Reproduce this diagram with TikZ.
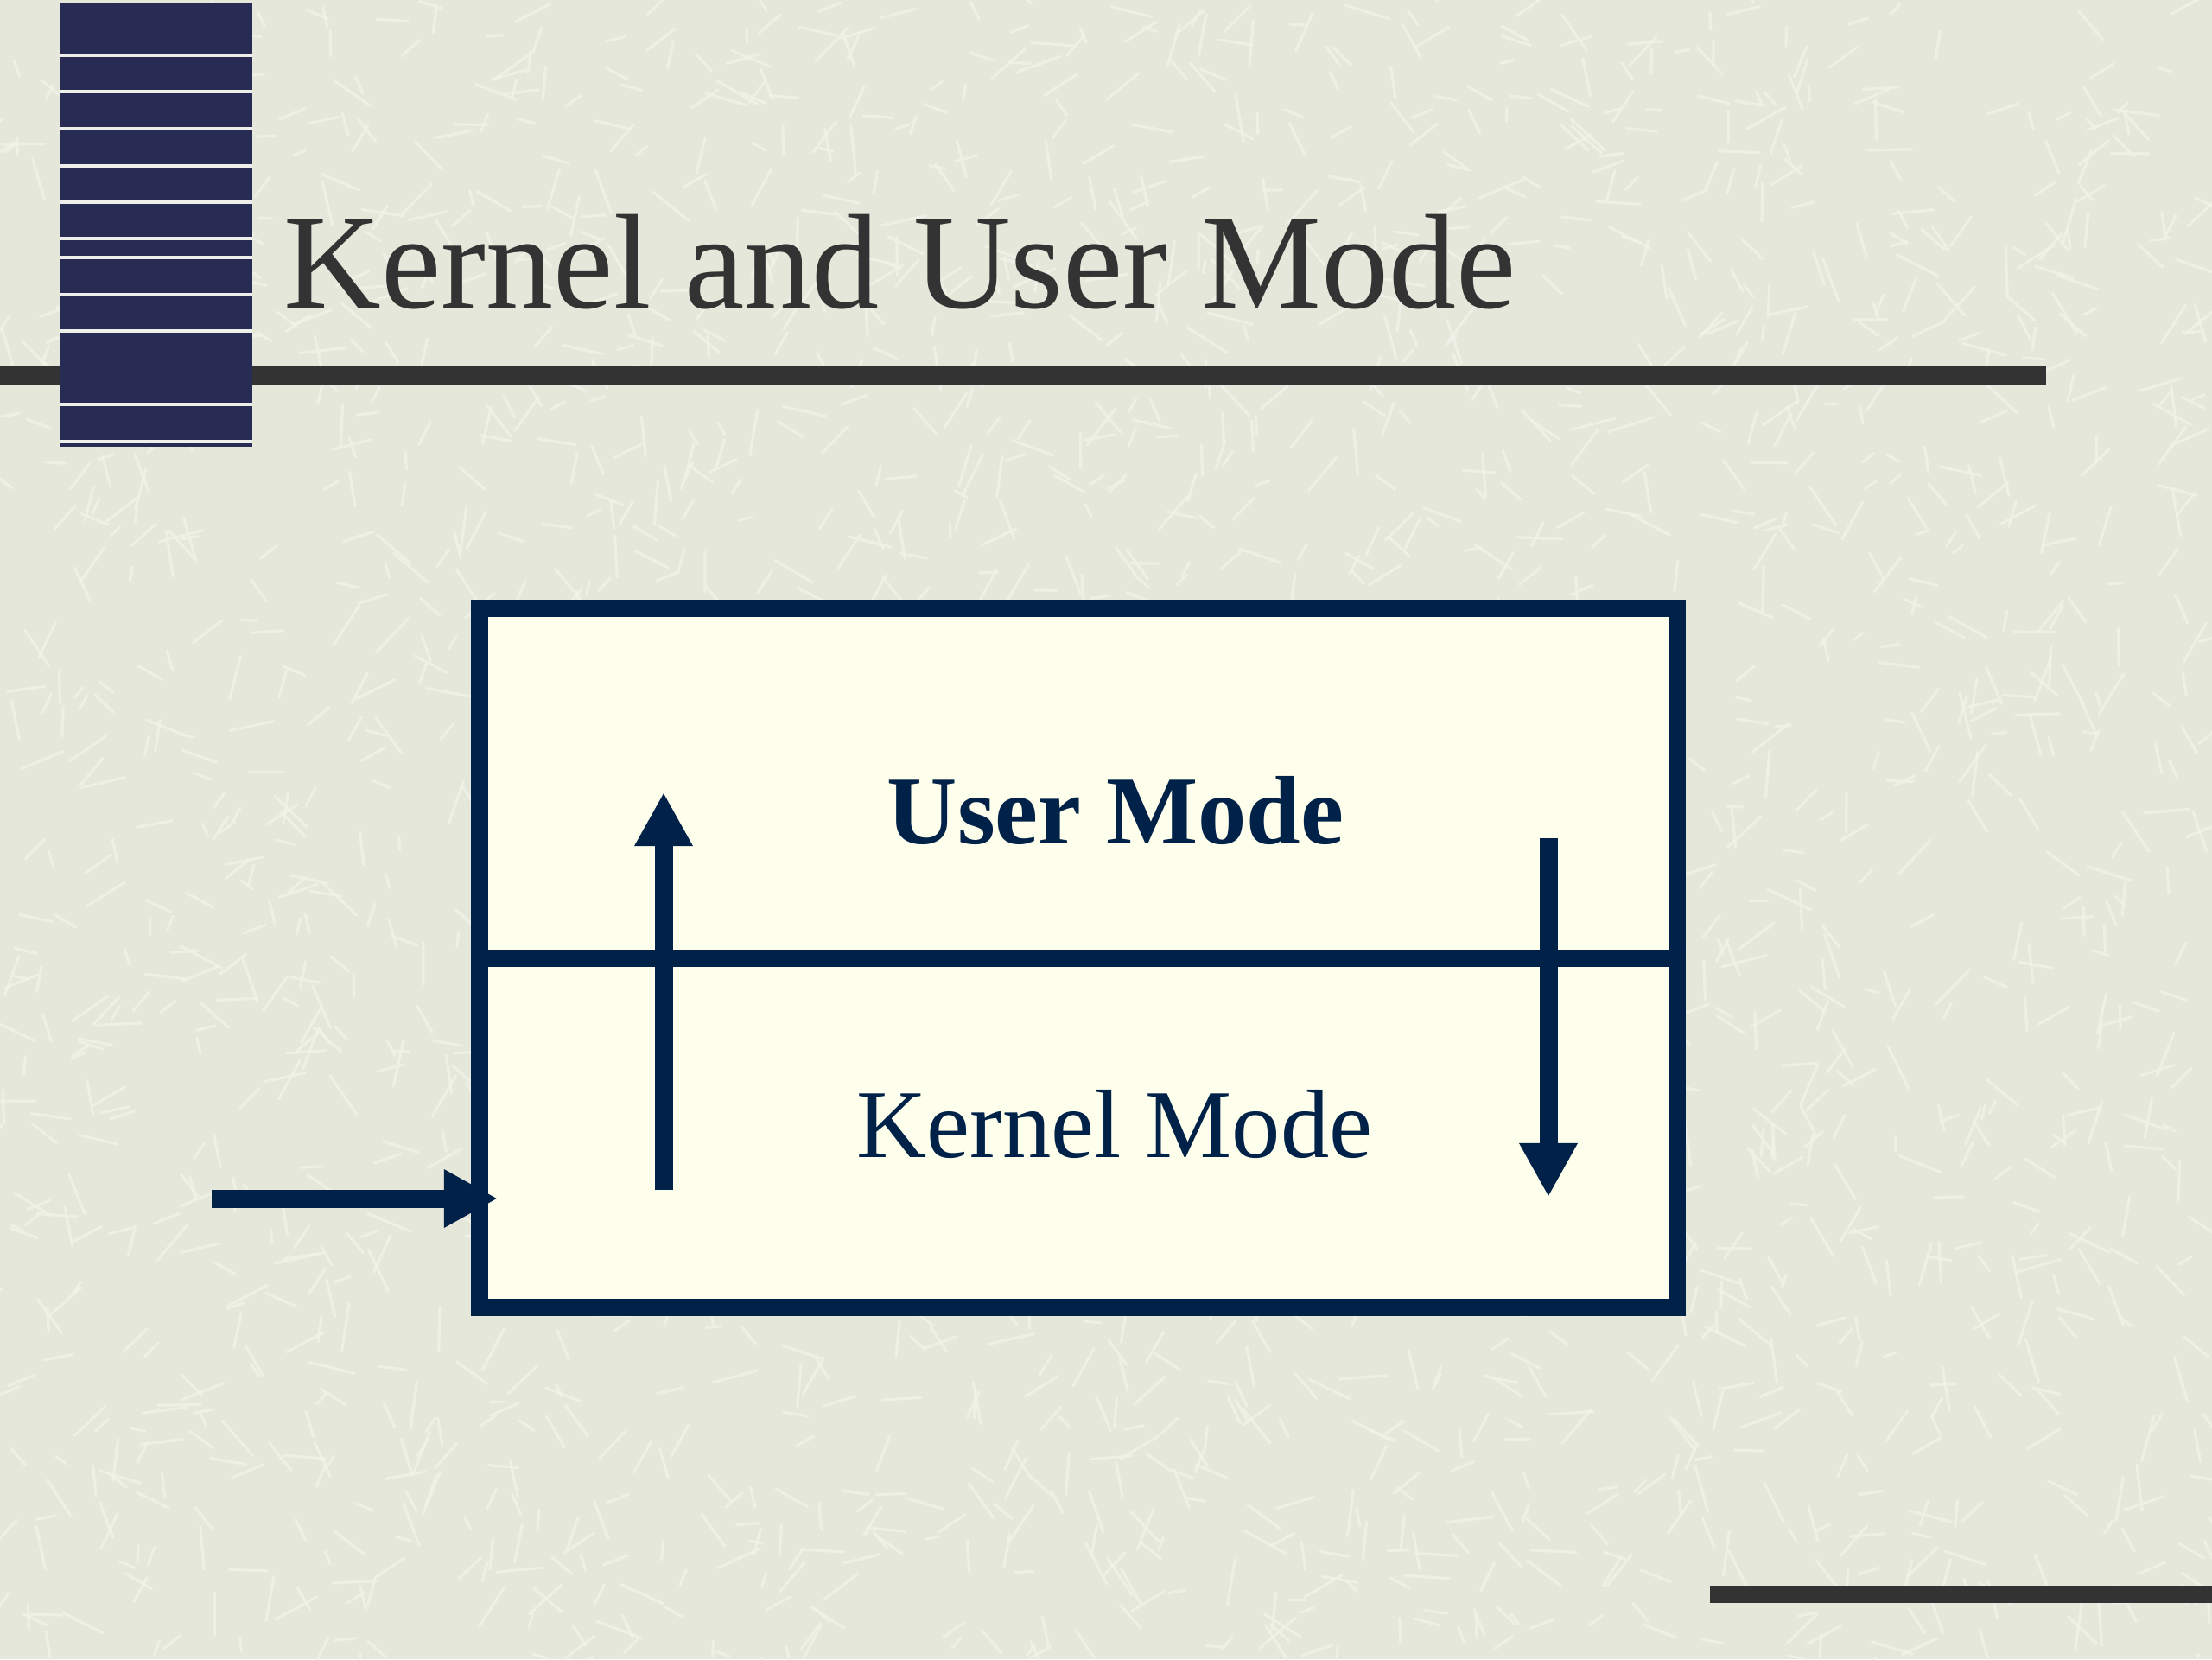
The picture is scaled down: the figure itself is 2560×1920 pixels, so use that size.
\documentclass[tikz,border=0pt]{standalone}
\usepackage{fontspec}
\setmainfont{Liberation Serif}
\usetikzlibrary{arrows.meta}
\definecolor{bgc}{RGB}{229,231,218}
\definecolor{texc}{RGB}{243,244,233}
\definecolor{boxfill}{RGB}{253,254,235}
\definecolor{navy}{RGB}{0,33,72}
\definecolor{barc}{RGB}{51,51,51}
\definecolor{blockc}{RGB}{40,44,84}
\definecolor{stripec}{RGB}{238,238,235}
\tikzset{
  boxshape/.style={draw=navy, fill=boxfill, line width=0.2cm, minimum width=13.86cm, minimum height=8.09cm, inner sep=0pt},
  boxline/.style={draw=navy, line width=0.2cm},
  arr/.style={draw=navy, line width=0.21cm, -{Triangle[length=0.62cm, width=0.63cm]}},
  titletext/.style={text=barc, font=\fontsize{44.4}{52}\selectfont, inner sep=0pt},
  modetext/.style={text=navy, inner sep=0pt},
}
\begin{document}
\begin{tikzpicture}[x=0.01cm, y=-0.01cm]
\useasboundingbox (0,0) rectangle (2560,1920);
\fill[bgc] (0,0) rectangle (2560,1920);
% background texture
\pgfmathsetseed{7}
\foreach \i in {1,...,2400}{
  \pgfmathsetmacro\xa{rnd*2560}
  \pgfmathsetmacro\ya{rnd*1920}
  \pgfmathsetmacro\an{rnd*360}
  \pgfmathsetmacro\le{15+rnd*40}
  \draw[texc, line width=0.9pt, opacity=0.75, line cap=round] (\xa,\ya) -- ++(\an:\le);
}
% title bar and bottom bar
\fill[barc] (0,424) rectangle (2368,446);
\fill[barc] (1979,1835) rectangle (2560,1855);
% striped block
\fill[blockc] (70,3) rectangle (292,517);
\foreach \y in {64,106,149,192,234,276,298,341,383,468,511}{
  \fill[stripec] (70,\y-1.6) rectangle (292,\y+1.6);
}
% title
\node[titletext, anchor=base west] (title) at (328,356) {Kernel and User Mode};
% box
\node[boxshape] (box) at (1248,1108.5) {};
\draw[boxline] (box.west) -- (box.east);
\node[modetext, font=\fontsize{32}{38}\selectfont\bfseries, anchor=base] (user) at (1291,976) {User Mode};
\node[modetext, font=\fontsize{32}{38}\selectfont, anchor=base] (kernel) at (1290,1339) {Kernel Mode};
% arrows
\coordinate (inS) at (245,1387);
\coordinate (inE) at (576,1387);
\draw[arr] (inS) -- (inE);
\coordinate (upS) at (768,1377);
\coordinate (upE) at (768,917);
\draw[arr] (upS) -- (upE);
\coordinate (dnS) at (1792,970);
\coordinate (dnE) at (1792,1385);
\draw[arr] (dnS) -- (dnE);
\end{tikzpicture}
\end{document}
